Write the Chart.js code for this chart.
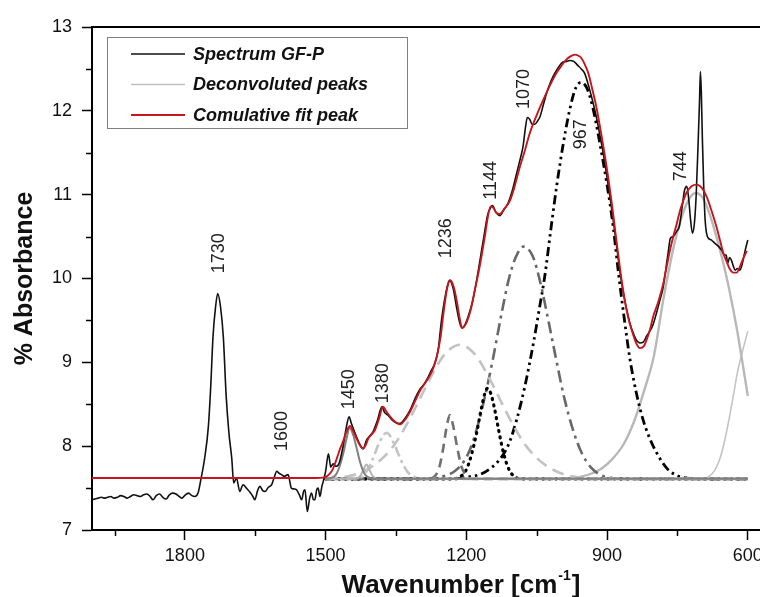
<!DOCTYPE html>
<html>
<head>
<meta charset="utf-8">
<script src="https://cdn.jsdelivr.net/npm/chart.js@4.4.1/dist/chart.umd.min.js"></script>
<style>
  html, body { margin: 0; padding: 0; background: #ffffff; }
  #wrap { width: 760px; height: 597px; overflow: hidden; }
  canvas { display: block; }
</style>
</head>
<body>
<div id="wrap"><canvas id="c" width="760" height="597"></canvas></div>
<script>
// ---- Measured FTIR spectrum (wavenumber in cm-1, % absorbance) ----
const spectrumWavenumber = [1998,1992,1985,1978,1972,1965,1958,1951,1944,1937,1930,1923,1916,1909,1902,1895,1888,1881,1874,1868,1861,1854,1847,1840,1833,1826,1819,1812,1806,1799,1792,1785,1779,1772,1766,1758,1750,1745,1740,1735,1730,1724,1718,1712,1706,1700,1696,1690,1683,1676,1669,1661,1655,1651,1645,1640,1634,1629,1622,1615,1610,1604,1600,1594,1588,1580,1573,1567,1562,1556,1551,1547,1544,1539,1534,1530,1526,1523,1519,1516,1512,1508,1505,1500,1494,1489,1484,1478,1471,1463,1456,1450,1445,1434,1427,1420,1413,1406,1399,1390,1380,1374,1367,1358,1350,1342,1331,1320,1310,1299,1290,1281,1275,1267,1260,1253,1244,1236,1228,1221,1214,1209,1202,1196,1187,1178,1170,1162,1155,1148,1144,1138,1129,1120,1111,1102,1093,1085,1079,1074,1070,1065,1060,1054,1048,1043,1036,1029,1022,1015,1006,997,987,979,971,962,955,948,937,930,923,915,908,900,894,887,880,873,866,859,852,845,838,830,823,815,808,802,795,787,781,775,770,765,759,752,746,740,735,730,726,722,718,714,710,706,703,701,699,697,694,691,688,684,678,670,662,655,650,646,643,639,635,631,627,622,617,613,610,605,600];
const spectrumAbsorbance = [7.36,7.37,7.38,7.39,7.38,7.39,7.40,7.38,7.39,7.41,7.40,7.38,7.40,7.42,7.41,7.40,7.42,7.43,7.40,7.36,7.41,7.43,7.39,7.37,7.42,7.44,7.43,7.40,7.38,7.42,7.44,7.41,7.40,7.44,7.60,7.85,8.23,8.70,9.31,9.64,9.82,9.66,9.30,8.60,8.15,7.85,7.56,7.62,7.46,7.54,7.50,7.45,7.40,7.36,7.47,7.52,7.47,7.46,7.51,7.54,7.62,7.70,7.68,7.66,7.64,7.66,7.50,7.49,7.48,7.42,7.36,7.46,7.48,7.22,7.38,7.44,7.36,7.36,7.48,7.50,7.40,7.52,7.58,7.70,7.91,7.75,7.79,7.76,7.80,7.99,8.22,8.35,8.27,8.11,8.02,7.97,8.07,8.12,8.17,8.30,8.47,8.40,8.37,8.31,8.28,8.27,8.33,8.43,8.56,8.68,8.74,8.83,8.90,8.99,9.15,9.50,9.82,9.98,9.88,9.66,9.47,9.41,9.46,9.55,9.72,9.98,10.25,10.52,10.75,10.85,10.87,10.80,10.75,10.82,10.90,11.05,11.25,11.43,11.58,11.80,11.92,11.90,11.84,11.84,11.88,11.93,12.07,12.21,12.32,12.41,12.50,12.57,12.59,12.60,12.59,12.54,12.50,12.45,12.25,12.10,11.93,11.70,11.49,11.20,10.98,10.70,10.40,10.10,9.85,9.65,9.48,9.36,9.27,9.23,9.24,9.32,9.38,9.45,9.58,9.75,9.88,10.10,10.30,10.48,10.50,10.56,10.62,10.85,11.05,11.10,10.95,10.70,10.54,10.65,11.00,11.60,12.10,12.47,12.20,11.70,11.10,10.70,10.54,10.48,10.46,10.42,10.38,10.33,10.28,10.28,10.18,10.25,10.22,10.15,10.10,10.12,10.10,10.15,10.22,10.35,10.46];

// ---- Cumulative fit of the deconvoluted bands ----
const fitWavenumber = [1998,1520,1505,1495,1485,1477,1469,1462,1455,1448,1441,1434,1427,1420,1414,1409,1402,1395,1386,1378,1370,1362,1352,1341,1330,1320,1309,1298,1287,1277,1270,1263,1255,1248,1241,1234,1227,1220,1214,1209,1200,1191,1182,1173,1166,1160,1154,1148,1142,1136,1129,1118,1107,1097,1086,1075,1065,1050,1036,1022,1008,997,987,978,969,962,955,948,940,932,923,912,901,890,880,869,859,852,845,838,830,822,815,808,802,791,781,773,765,758,752,745,738,731,720,709,698,688,678,667,659,652,645,638,631,624,619,614,608,602];
const fitAbsorbance = [7.62,7.62,7.625,7.65,7.72,7.84,7.97,8.07,8.18,8.24,8.18,8.09,8.01,7.97,8.02,8.09,8.14,8.19,8.33,8.47,8.41,8.35,8.29,8.26,8.32,8.41,8.54,8.67,8.76,8.85,8.94,9.07,9.30,9.62,9.88,9.98,9.90,9.72,9.52,9.41,9.47,9.62,9.86,10.10,10.32,10.52,10.74,10.86,10.84,10.78,10.77,10.84,10.93,11.10,11.33,11.53,11.73,11.95,12.13,12.30,12.45,12.54,12.61,12.65,12.67,12.66,12.63,12.56,12.45,12.27,12.05,11.71,11.33,10.90,10.45,9.98,9.64,9.47,9.34,9.23,9.17,9.19,9.28,9.40,9.54,9.72,9.92,10.14,10.36,10.52,10.64,10.80,10.92,11.02,11.10,11.12,11.08,10.98,10.82,10.62,10.45,10.30,10.20,10.11,10.07,10.07,10.11,10.18,10.26,10.33];

// ---- Deconvoluted bands ----
const band1450W = [1500,1488,1478,1470,1462,1455,1449,1441,1434,1426,1418,1410,1398,600];
const band1450A = [7.61,7.62,7.66,7.76,7.92,8.10,8.22,8.13,7.98,7.80,7.68,7.63,7.61,7.61];

const band1413W = [1500,1435,1427,1420,1413,1406,1399,1390,600];
const band1413A = [7.61,7.61,7.64,7.71,7.78,7.71,7.64,7.61,7.61];

const band1370W = [1500,1430,1415,1400,1385,1370,1355,1340,1325,1310,1290,600];
const band1370A = [7.61,7.62,7.68,7.84,8.05,8.16,8.04,7.84,7.69,7.63,7.61,7.61];

const band1236W = [1500,1280,1266,1258,1250,1242,1235,1228,1220,1210,1198,1185,600];
const band1236A = [7.61,7.61,7.65,7.74,7.95,8.23,8.37,8.24,8.00,7.75,7.64,7.61,7.61];

const band1214W = [1500,1478,1453,1428,1403,1378,1353,1328,1303,1278,1250,1232,1214,1196,1178,1150,1125,1100,1075,1050,1025,1000,975,950,920,600];
const band1214A = [7.61,7.62,7.64,7.68,7.75,7.86,8.02,8.25,8.52,8.80,9.07,9.17,9.21,9.17,9.07,8.80,8.52,8.25,8.02,7.86,7.75,7.68,7.64,7.62,7.61,7.61];

const band1155W = [1500,1230,1215,1200,1188,1178,1168,1161,1155,1148,1140,1130,1120,1108,1095,1080,600];
const band1155A = [7.61,7.61,7.63,7.72,7.92,8.16,8.45,8.62,8.69,8.63,8.45,8.16,7.90,7.71,7.63,7.61,7.61];

const band1076W = [1500,1280,1250,1225,1205,1190,1176,1160,1143,1125,1110,1095,1078,1058,1043,1027,1008,991,973,955,935,915,890,860,600];
const band1076A = [7.61,7.61,7.64,7.70,7.82,7.99,8.24,8.60,9.05,9.58,9.98,10.25,10.38,10.26,9.97,9.55,9.02,8.57,8.20,7.93,7.75,7.66,7.62,7.61,7.61];

const band958W = [1500,1230,1200,1164,1129,1110,1093,1075,1057,1045,1033,1020,1007,993,979,967,955,943,930,916,901,887,876,864,851,837,823,805,787,770,751,730,700,600];
const band958A = [7.61,7.61,7.63,7.68,7.84,8.02,8.31,8.72,9.23,9.62,10.02,10.58,11.12,11.62,12.03,12.27,12.34,12.27,12.03,11.63,11.15,10.62,10.08,9.55,9.03,8.62,8.31,8.04,7.85,7.72,7.65,7.62,7.61,7.61];

const band711W = [1500,1000,960,930,910,890,865,842,820,800,781,770,755,740,725,711,697,682,667,652,640,624,612,600];
const band711A = [7.61,7.61,7.63,7.68,7.74,7.84,8.02,8.30,8.68,9.08,9.72,10.05,10.45,10.75,10.95,11.02,10.97,10.78,10.50,10.18,9.88,9.42,9.02,8.60];

const band580W = [1500,700,685,672,660,650,639,630,621,610,600];
const band580A = [7.61,7.61,7.63,7.70,7.84,8.05,8.35,8.63,8.91,9.16,9.37];

// ---- Band assignments written beside the peaks ----
const peakLabels = ['1730','1600','1450','1380','1236','1144','1070','967','744'];
const peakLabelWavenumber = [1727,1593,1450,1377,1244,1148,1078,956,742];
const peakLabelAbsorbance = [10.30,8.18,8.68,8.75,10.48,11.17,12.26,11.72,11.34];

// ---- Axis ticks ----
const xMajorTicks = [1800,1500,1200,900,600];
const xMinorTicks = [1950,1650,1350,1050,750];
const yMajorTicks = [7,8,9,10,11,12,13];
const yMinorTicks = [7.5,8.5,9.5,10.5,11.5,12.5];

const FONT = "'Liberation Sans', Arial, Helvetica, sans-serif";
const pts = (ws, as) => ws.map((w, i) => ({ x: w, y: as[i] }));

const LABEL_SPECTRUM = 'Spectrum GF-P';
const LABEL_BANDS = 'Deconvoluted peaks';
const LABEL_FIT = 'Comulative fit peak';

function band(ws, as, color, width, dash, cap) {
  return {
    label: LABEL_BANDS,
    data: pts(ws, as),
    borderColor: color,
    borderWidth: width,
    borderDash: dash || [],
    borderCapStyle: cap || 'butt',
    order: 2
  };
}

const datasets = [
  {
    label: LABEL_FIT,
    data: pts(fitWavenumber, fitAbsorbance),
    borderColor: '#c4161c',
    borderWidth: 1.9,
    order: 0
  },
  {
    label: LABEL_SPECTRUM,
    data: pts(spectrumWavenumber, spectrumAbsorbance),
    borderColor: '#111111',
    borderWidth: 1.6,
    order: 1
  },
  band(band1450W, band1450A, '#808080', 2),
  band(band1413W, band1413A, '#b4b4b4', 2),
  band(band1370W, band1370A, '#c4c4c4', 2.6, [10, 4, 3, 4]),
  band(band1236W, band1236A, '#707070', 2.6, [9, 6]),
  band(band1214W, band1214A, '#c2c2c2', 2.6, [12, 7]),
  band(band1155W, band1155A, '#000000', 3.2, [1, 5.5], 'round'),
  band(band1076W, band1076A, '#686868', 2.6, [12, 5, 3, 5]),
  band(band958W, band958A, '#000000', 2.8, [9, 4, 2.5, 4, 2.5, 4]),
  band(band711W, band711A, '#b8b8b8', 2.4),
  band(band580W, band580A, '#c4c4c4', 1.6)
];

// Frame, minor ticks, band labels, axis titles and legend box
const decorations = {
  id: 'decorations',
  afterDraw(chart) {
    const { ctx, chartArea, scales } = chart;
    const xs = scales.x, ys = scales.y;
    ctx.save();

    // top frame line
    ctx.strokeStyle = '#000';
    ctx.lineWidth = 2;
    ctx.beginPath();
    ctx.moveTo(chartArea.left - 1, chartArea.top);
    ctx.lineTo(chartArea.right, chartArea.top);
    ctx.stroke();

    // minor ticks
    ctx.lineWidth = 1.5;
    xMinorTicks.forEach(v => {
      const px = Math.round(xs.getPixelForValue(v)) + 0.5;
      ctx.beginPath();
      ctx.moveTo(px, chartArea.bottom);
      ctx.lineTo(px, chartArea.bottom + 6);
      ctx.stroke();
    });
    yMinorTicks.forEach(v => {
      const py = Math.round(ys.getPixelForValue(v)) + 0.5;
      ctx.beginPath();
      ctx.moveTo(chartArea.left, py);
      ctx.lineTo(chartArea.left - 6, py);
      ctx.stroke();
    });

    // band labels, written vertically
    ctx.fillStyle = '#222';
    ctx.font = '18px ' + FONT;
    ctx.textAlign = 'center';
    ctx.textBaseline = 'middle';
    peakLabels.forEach((t, i) => {
      const px = xs.getPixelForValue(peakLabelWavenumber[i]);
      const py = ys.getPixelForValue(peakLabelAbsorbance[i]);
      ctx.save();
      ctx.translate(px, py);
      ctx.rotate(-Math.PI / 2);
      ctx.fillText(t, 0, 0);
      ctx.restore();
    });

    // y axis title
    ctx.fillStyle = '#111';
    ctx.font = 'bold 25px ' + FONT;
    ctx.save();
    ctx.translate(25, (chartArea.top + chartArea.bottom) / 2);
    ctx.rotate(-Math.PI / 2);
    ctx.fillText('% Absorbance', 0, 0);
    ctx.restore();

    // x axis title with superscript
    const main = 'Wavenumber [cm';
    const sup = '-1';
    const tail = ']';
    const bigFont = 'bold 26px ' + FONT;
    const supFont = 'bold 14px ' + FONT;
    ctx.font = bigFont;
    const wMain = ctx.measureText(main).width;
    const wTail = ctx.measureText(tail).width;
    ctx.font = supFont;
    const wSup = ctx.measureText(sup).width;
    const total = wMain + wSup + wTail + 2;
    const x0 = 461 - total / 2;
    const base = 593;
    ctx.textAlign = 'left';
    ctx.textBaseline = 'alphabetic';
    ctx.font = bigFont;
    ctx.fillText(main, x0, base);
    ctx.font = supFont;
    ctx.fillText(sup, x0 + wMain + 1, base - 13);
    ctx.font = bigFont;
    ctx.fillText(tail, x0 + wMain + wSup + 2, base);

    // legend box
    const box = { left: 107.5, top: 37.5, w: 300, h: 91 };
    ctx.strokeStyle = '#808080';
    ctx.lineWidth = 1;
    ctx.strokeRect(box.left, box.top, box.w, box.h);
    const entries = [
      { label: LABEL_SPECTRUM, color: '#111111', width: 1.6 },
      { label: LABEL_BANDS, color: '#c0c0c0', width: 1.6 },
      { label: LABEL_FIT, color: '#c4161c', width: 1.9 }
    ];
    ctx.font = 'italic bold 18px ' + FONT;
    ctx.textBaseline = 'middle';
    entries.forEach((e, i) => {
      const y = 54 + i * 30.5;
      ctx.strokeStyle = e.color;
      ctx.lineWidth = e.width;
      ctx.beginPath();
      ctx.moveTo(131, y);
      ctx.lineTo(185, y);
      ctx.stroke();
      ctx.fillStyle = '#111';
      ctx.fillText(e.label, 193, y + 1);
    });

    ctx.restore();
  }
};

new Chart(document.getElementById('c'), {
  type: 'line',
  data: { datasets },
  options: {
    responsive: false,
    animation: false,
    devicePixelRatio: 1,
    layout: { padding: { top: 27, left: 0, right: 0, bottom: 0 } },
    elements: {
      point: { radius: 0 },
      line: { cubicInterpolationMode: 'monotone', fill: false, borderJoinStyle: 'round' }
    },
    plugins: {
      legend: { display: false },
      tooltip: { enabled: false }
    },
    scales: {
      x: {
        type: 'linear',
        reverse: true,
        min: 574,
        max: 1998,
        afterBuildTicks: s => { s.ticks = xMajorTicks.map(v => ({ value: v })); },
        afterFit: s => { s.height = 67; s.paddingLeft = 0; s.paddingRight = 0; },
        grid: { drawOnChartArea: false, drawTicks: true, tickLength: 10, tickWidth: 1.5, tickColor: '#000' },
        border: { display: true, color: '#000', width: 2 },
        ticks: { font: { family: FONT, size: 18 }, color: '#111', padding: 5, maxRotation: 0, autoSkip: false, callback: v => String(v) }
      },
      y: {
        type: 'linear',
        min: 7,
        max: 13,
        afterBuildTicks: s => { s.ticks = yMajorTicks.map(v => ({ value: v })); },
        afterFit: s => { s.width = 92; s.paddingTop = 0; s.paddingBottom = 0; },
        grid: { drawOnChartArea: false, drawTicks: true, tickLength: 10, tickWidth: 1.5, tickColor: '#000' },
        border: { display: true, color: '#000', width: 2 },
        ticks: { font: { family: FONT, size: 18 }, color: '#111', padding: 10, autoSkip: false, callback: v => String(v) }
      }
    }
  },
  plugins: [decorations]
});
</script>
</body>
</html>
